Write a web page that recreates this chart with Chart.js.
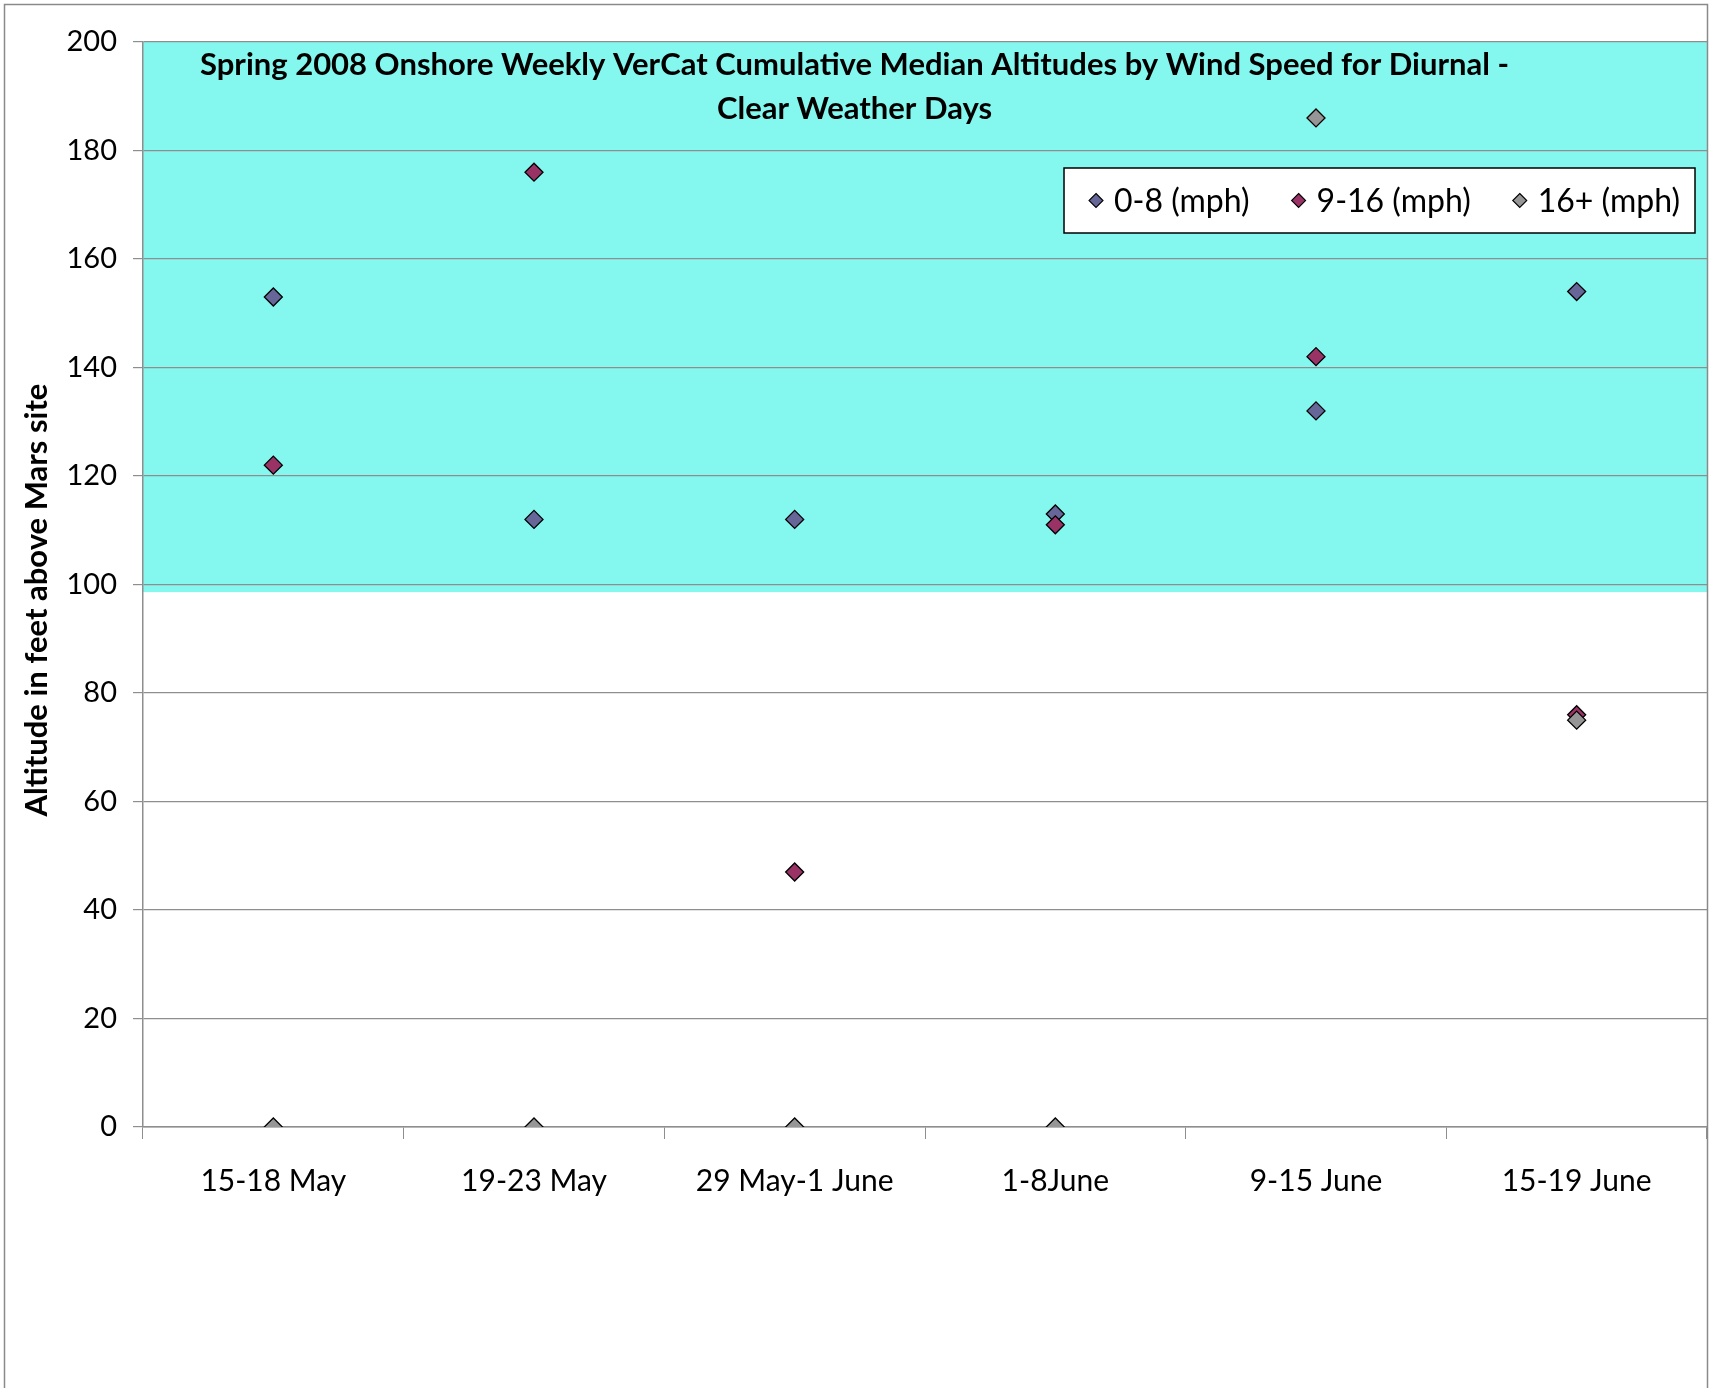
<!DOCTYPE html>
<html><head><meta charset="utf-8">
<script src="https://cdn.jsdelivr.net/npm/chart.js@4/dist/chart.umd.min.js"></script>
<style>html,body{margin:0;padding:0;background:#fff}#wrap{position:relative;width:1709px;height:1388px}canvas{display:block}</style>
</head><body><div id="wrap"><canvas id="c" width="1709" height="1388"></canvas></div>
<script>
// ---- data ----
const categories = ['15-18 May', '19-23 May', '29 May-1 June', '1-8June', '9-15 June', '15-19 June'];
const series0to8 = [153, 112, 112, 113, 132, 154];
const series9to16 = [122, 176, 47, 111, 142, 76];
const series16plus = [0, 0, 0, 0, 186, 75];
const seriesLabels = ['0-8 (mph)', '9-16 (mph)', '16+ (mph)'];
const yTickValues = [0, 20, 40, 60, 80, 100, 120, 140, 160, 180, 200];
const titleLines = ['Spring 2008 Onshore Weekly VerCat Cumulative Median Altitudes by Wind Speed for Diurnal -', 'Clear Weather Days'];
const yAxisTitle = 'Altitude in feet above Mars site';
const bandRange = [98.6, 200];

// ---- styles ----
const FONT = 'Lato, "Open Sans", sans-serif';
const colors = ['#666699', '#993366', '#969696'];
const bandColor = '#84F7EF';
const gridColor = '#8e8e8e';

const bgPlugin = {
  id: 'bg',
  beforeDraw(chart) {
    const ctx = chart.ctx, a = chart.chartArea, y = chart.scales.y;
    ctx.save();
    ctx.fillStyle = '#fff';
    ctx.fillRect(0, 0, chart.width, chart.height);
    const yTop = y.getPixelForValue(bandRange[1]);
    const yBot = y.getPixelForValue(bandRange[0]);
    ctx.fillStyle = bandColor;
    ctx.fillRect(a.left, yTop, a.right - a.left, yBot - yTop);
    ctx.restore();
  },
  afterDraw(chart) {
    const ctx = chart.ctx;
    ctx.save();
    ctx.strokeStyle = '#8a8a8a';
    ctx.lineWidth = 1.5;
    ctx.beginPath();
    ctx.moveTo(4.5, chart.height + 5);
    ctx.lineTo(4.5, 4.5);
    ctx.lineTo(1707.5, 4.5);
    ctx.lineTo(1707.5, chart.height + 5);
    ctx.stroke();
    // y axis title
    ctx.translate(37, 600);
    ctx.rotate(-Math.PI / 2);
    ctx.fillStyle = '#000';
    ctx.font = 'bold 31px ' + FONT;
    ctx.textAlign = 'center';
    ctx.textBaseline = 'middle';
    ctx.fillText(yAxisTitle, 0, 0);
    ctx.restore();
  }
};

const titlePlugin = {
  id: 'inTitle',
  afterDatasetsDraw(chart) {
    const ctx = chart.ctx;
    ctx.save();
    ctx.fillStyle = '#000';
    ctx.font = 'bold 31px ' + FONT;
    ctx.textAlign = 'center';
    ctx.textBaseline = 'middle';
    const cx = chart.width / 2;
    titleLines.forEach((t, i) => ctx.fillText(t, cx, 65 + i * 44));
    ctx.restore();
  }
};

const legendPlugin = {
  id: 'inLegend',
  afterDatasetsDraw(chart) {
    const ctx = chart.ctx, a = chart.chartArea;
    ctx.save();
    ctx.font = '32px ' + FONT;
    const ds = chart.data.datasets;
    const half = 7, gap = 11, between = 42, padL = 25, padR = 15;
    let w = padL + padR;
    ds.forEach((d, i) => { w += 2 * half + gap + ctx.measureText(d.label).width + (i < ds.length - 1 ? between : 0); });
    const right = a.right - 12, top = 168, h = 65;
    const left = right - w;
    ctx.fillStyle = '#fff';
    ctx.fillRect(left, top, w, h);
    ctx.strokeStyle = '#000';
    ctx.lineWidth = 1.5;
    ctx.strokeRect(left, top, w, h);
    const cy = top + h / 2;
    let x = left + padL;
    ds.forEach((d, i) => {
      const mx = x + half;
      ctx.beginPath();
      ctx.moveTo(mx, cy - half); ctx.lineTo(mx + half, cy); ctx.lineTo(mx, cy + half); ctx.lineTo(mx - half, cy); ctx.closePath();
      ctx.fillStyle = d.backgroundColor; ctx.fill();
      ctx.strokeStyle = '#000'; ctx.lineWidth = 1.1; ctx.stroke();
      x += 2 * half + gap;
      ctx.fillStyle = '#000';
      ctx.textAlign = 'left'; ctx.textBaseline = 'middle';
      ctx.fillText(d.label, x, cy + 1);
      x += ctx.measureText(d.label).width + between;
    });
    ctx.restore();
  }
};

const seriesData = [series0to8, series9to16, series16plus];
const datasets = seriesData.map((vals, i) => ({
  label: seriesLabels[i],
  data: vals,
  showLine: false,
  pointStyle: 'rectRot',
  pointRadius: 9,
  pointHoverRadius: 9,
  backgroundColor: colors[i],
  pointBackgroundColor: colors[i],
  borderColor: '#000',
  pointBorderColor: '#000',
  pointBorderWidth: 1.3,
  order: 3 - i
}));

new Chart(document.getElementById('c'), {
  type: 'line',
  data: { labels: categories, datasets },
  options: {
    responsive: false,
    animation: false,
    devicePixelRatio: 1,
    layout: { autoPadding: false, padding: { left: 0, right: 2, top: 42, bottom: 0 } },
    plugins: { legend: { display: false }, title: { display: false }, tooltip: { enabled: false } },
    scales: {
      x: {
        type: 'category',
        offset: true,
        grid: { offset: true, drawOnChartArea: false, drawTicks: true, tickLength: 12, color: gridColor },
        border: { color: gridColor, width: 1.5 },
        ticks: { color: '#000', font: { family: FONT, size: 30 }, padding: 24, maxRotation: 0, autoSkip: false },
        afterFit(s) { s.height = 261; }
      },
      y: {
        min: 0, max: 200,
        afterBuildTicks(s) { s.ticks = yTickValues.map(v => ({ value: v })); },
        grid: { color: gridColor, lineWidth: 1.2, tickLength: 10 },
        border: { color: gridColor, width: 1.5 },
        ticks: { color: '#000', font: { family: FONT, size: 29 }, padding: 16 },
        afterFit(s) { s.width = 143; }
      }
    }
  },
  plugins: [bgPlugin, titlePlugin, legendPlugin]
});
</script></body></html>
